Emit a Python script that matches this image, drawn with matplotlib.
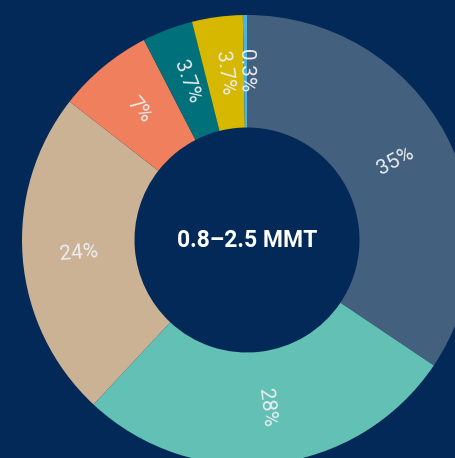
import numpy as np
from matplotlib import pyplot as plt

labels = ['35%', '28%', '24%', '7%', '3.7%', '3.7%', '0.3%']
values = [35, 28, 24, 7, 3.7, 3.7, 0.3]
colors = ['#44607f', '#63c0b5', '#ccb295', '#f07f5e', '#00707b', '#d6b800', '#4cb3e0']
center_text = '0.8\u20132.5 MMT'
bg = '#022957'

fig = plt.figure(figsize=(4.55, 4.58), dpi=100, facecolor=bg)
ax = fig.add_axes([0, 0, 1, 1])
ax.set_facecolor(bg)

wedges, _ = ax.pie(values, colors=colors, startangle=90, counterclock=False,
                   radius=1, wedgeprops=dict(width=0.5, linewidth=0))

# labels rotated along the radius, flipped on the left side
for w, lab in zip(wedges, labels):
    ang = (w.theta1 + w.theta2) / 2
    r = 0.75
    x, y = r * np.cos(np.radians(ang)), r * np.sin(np.radians(ang))
    rot = ang
    a = ((ang + 180) % 360) - 180
    if a > 90 or a < -90:
        rot = ang - 180
    ax.text(x, y, lab, rotation=rot, rotation_mode='anchor', ha='center', va='center',
            color='#e9edf0', fontsize=15, family='Roboto')

ax.text(0, 0, center_text, ha='center', va='center', color='white',
        fontsize=16.5, family='Roboto', fontweight='bold')

ax.set_xlim(-247 / 225, 208 / 225)
ax.set_ylim(-218 / 225, 240 / 225)
ax.set_aspect('equal')
ax.axis('off')

fig.savefig('out.png', dpi=100, facecolor=bg)
